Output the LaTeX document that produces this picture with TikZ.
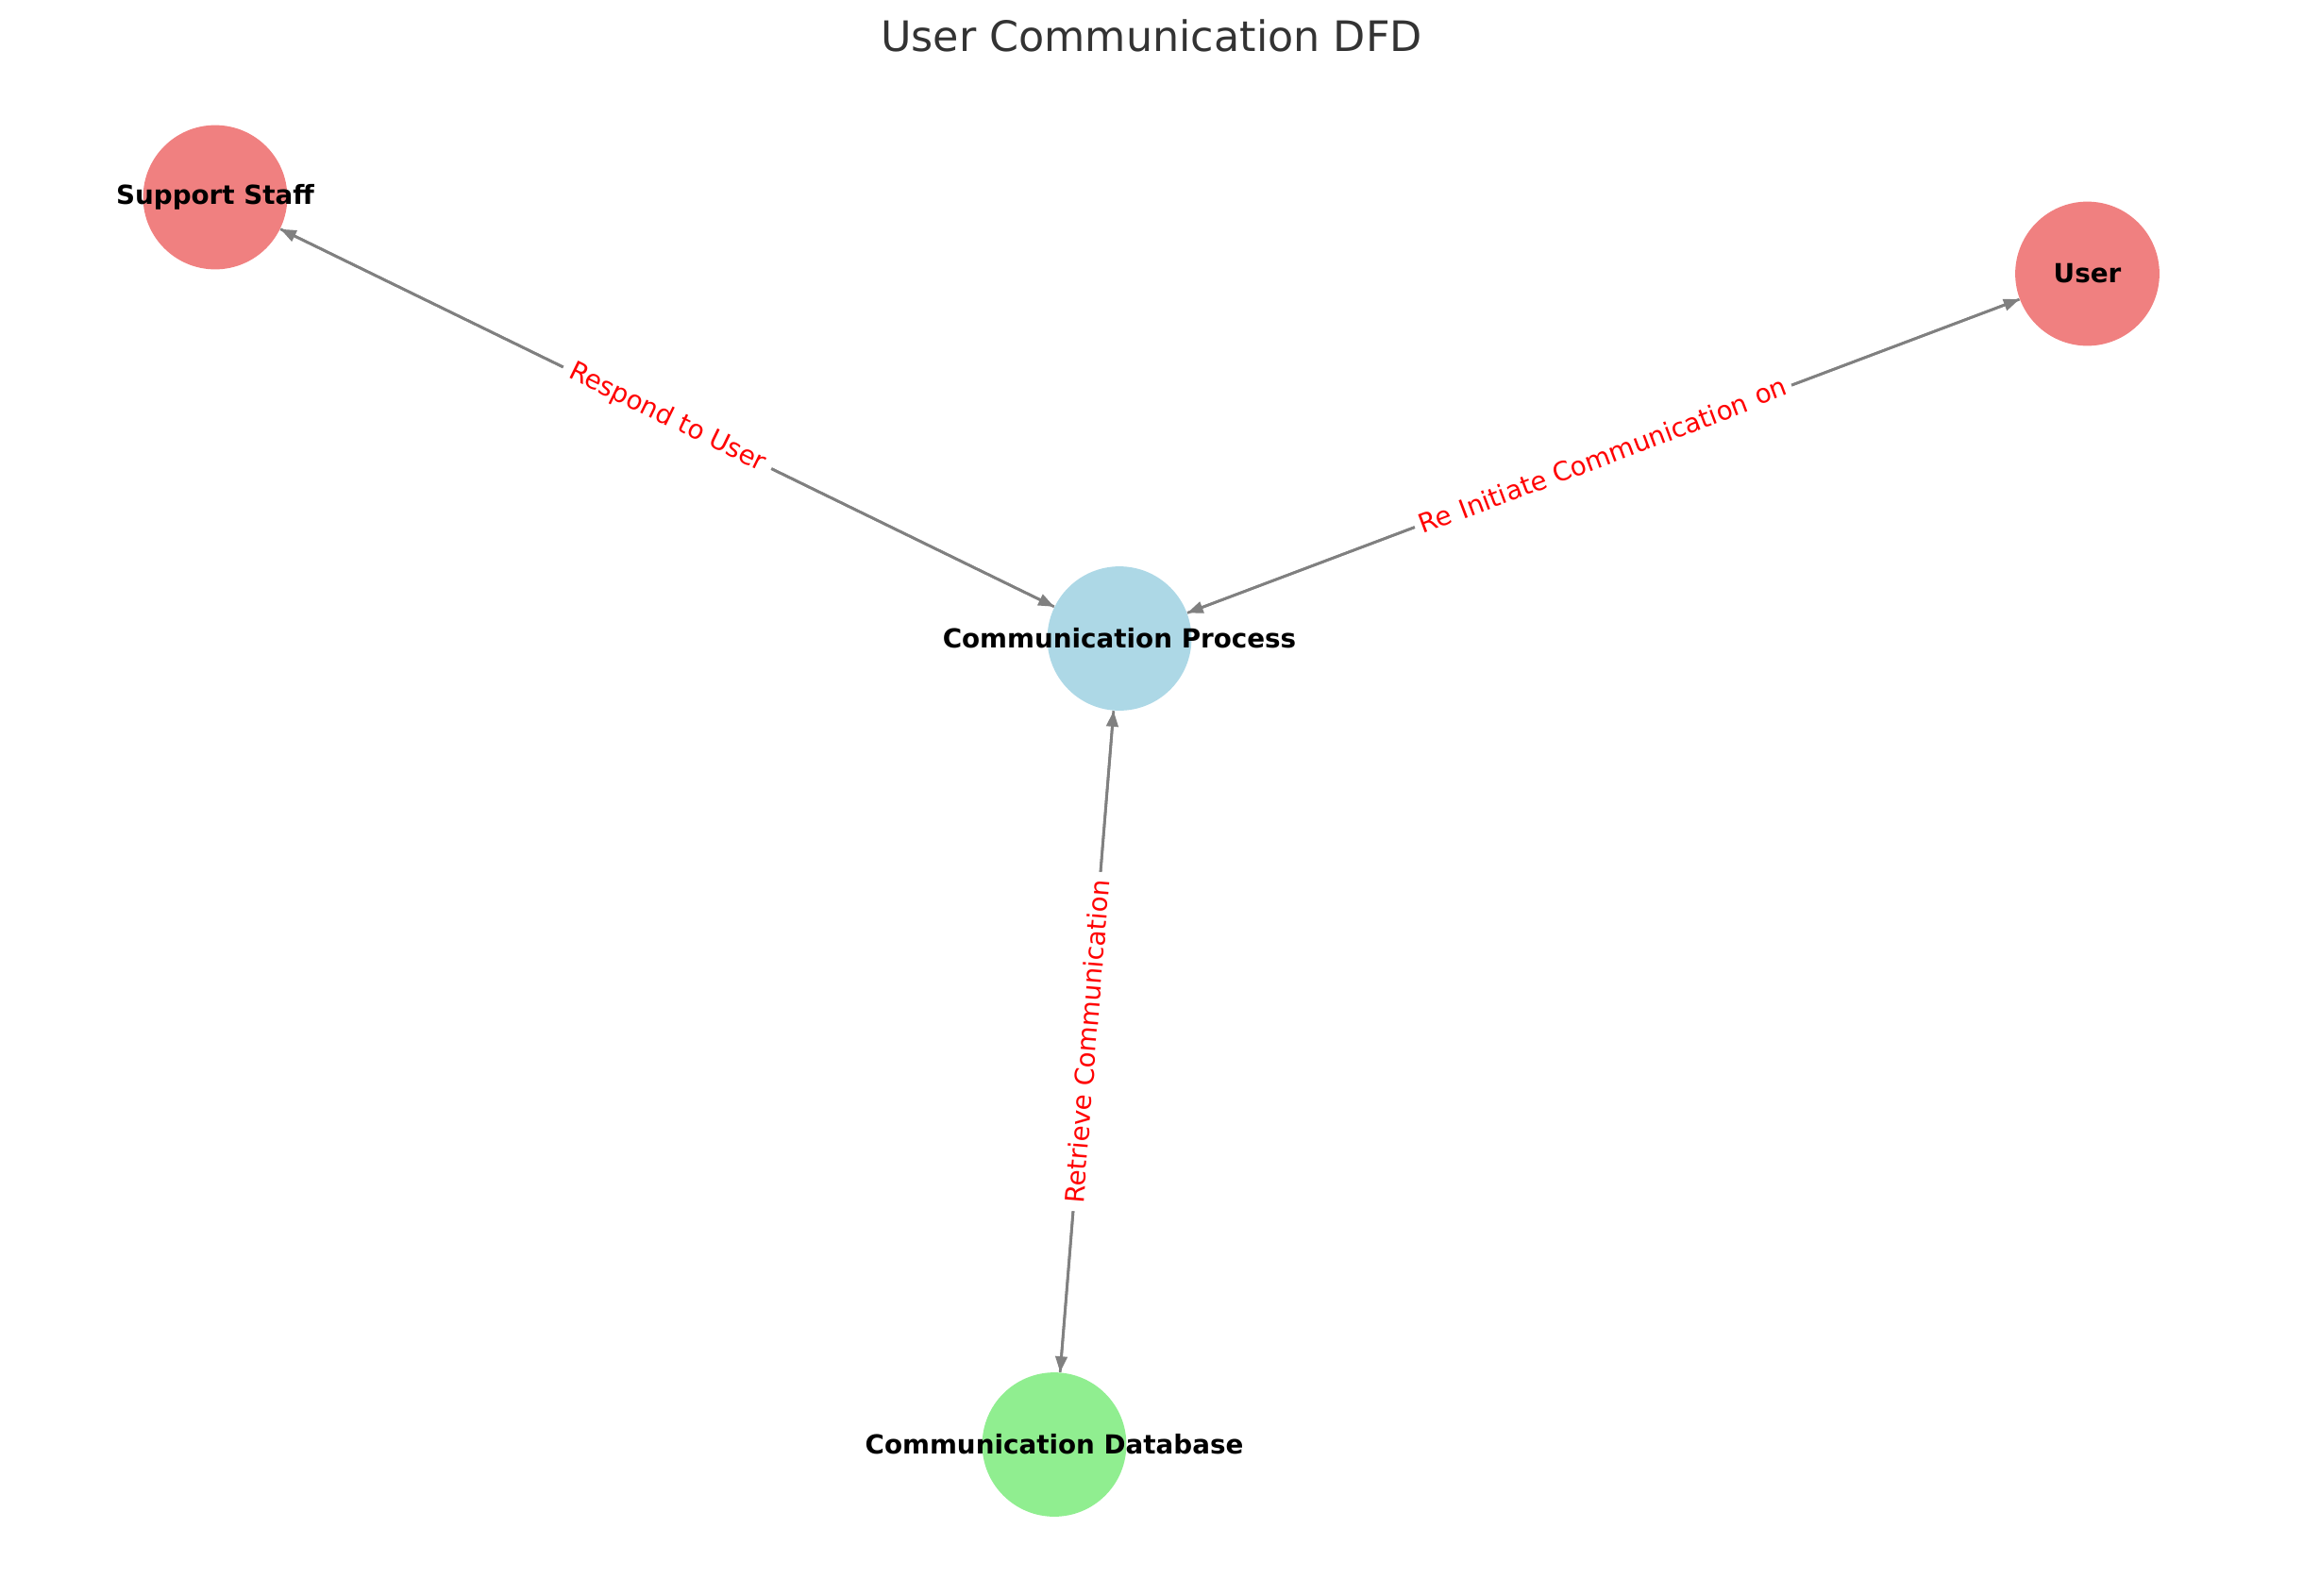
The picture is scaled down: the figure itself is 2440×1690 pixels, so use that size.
\documentclass[tikz,border=0pt]{standalone}
\usepackage{fontspec}
\setmainfont{DejaVu Sans}
\usepackage{tikz}
\usetikzlibrary{arrows.meta}

\definecolor{extcol}{HTML}{F08080}
\definecolor{proccol}{HTML}{ADD8E6}
\definecolor{storecol}{HTML}{90EE90}
\definecolor{flowcol}{HTML}{808080}
\definecolor{titlecol}{HTML}{333333}

\begin{document}
\begin{tikzpicture}[x=0.36pt, y=-0.36pt,
  bubble/.style={circle, inner sep=0pt, minimum size=55pt},
  nodetext/.style={font=\fontsize{10}{12}\selectfont\bfseries, text=black},
  labtext/.style={text=red, fill=white, font=\fontsize{10}{12}\selectfont},
  flow/.style={draw=flowcol, line width=1pt, -{Triangle[length=6pt, width=4.5pt]}},
  flowlab/.style={labtext, midway, sloped, rounded corners=2pt, inner sep=3pt}]
\useasboundingbox (0,0) rectangle (2440,1690);

% title
\node[font=\fontsize{16}{19}\selectfont, text=titlecol] (title) at (1220,38) {User Communication DFD};

% external entities
\node[bubble, fill=extcol, label={[nodetext]center:Support Staff}] (sup) at (228,209) {};
\node[bubble, fill=extcol, label={[nodetext]center:User}] (usr) at (2211.5,290) {};

% process
\node[bubble, fill=proccol, label={[nodetext]center:Communication Process}] (proc) at (1186,676.5) {};

% data store
\node[bubble, fill=storecol, label={[nodetext]center:Communication Database}] (db) at (1117,1530.5) {};

% flows
\draw[flow] (usr) -- (proc);
\draw[flow] (proc) -- (usr);
\draw[flow] (sup) -- (proc);
\draw[flow] (proc) -- (sup);
\draw[flow] (proc) -- (db);
\draw[flow] (db) -- (proc);

% flow labels
\path (proc) -- (usr) node[flowlab, sharp corners] (l2) {Initiate Communication};
\node[labtext, rotate=20.65, anchor=east, inner sep=2pt, outer xsep=-1.5pt] (l2a) at (l2.west) {Re};
\node[labtext, rotate=20.65, anchor=west, inner sep=2pt, outer xsep=-1.5pt] (l2b) at (l2.east) {on};
\path (proc) -- (sup) node[flowlab] (l3) {Respond to User};
\path (db) -- (proc) node[flowlab] (l4) {Retrieve Communication};
\end{tikzpicture}
\end{document}
